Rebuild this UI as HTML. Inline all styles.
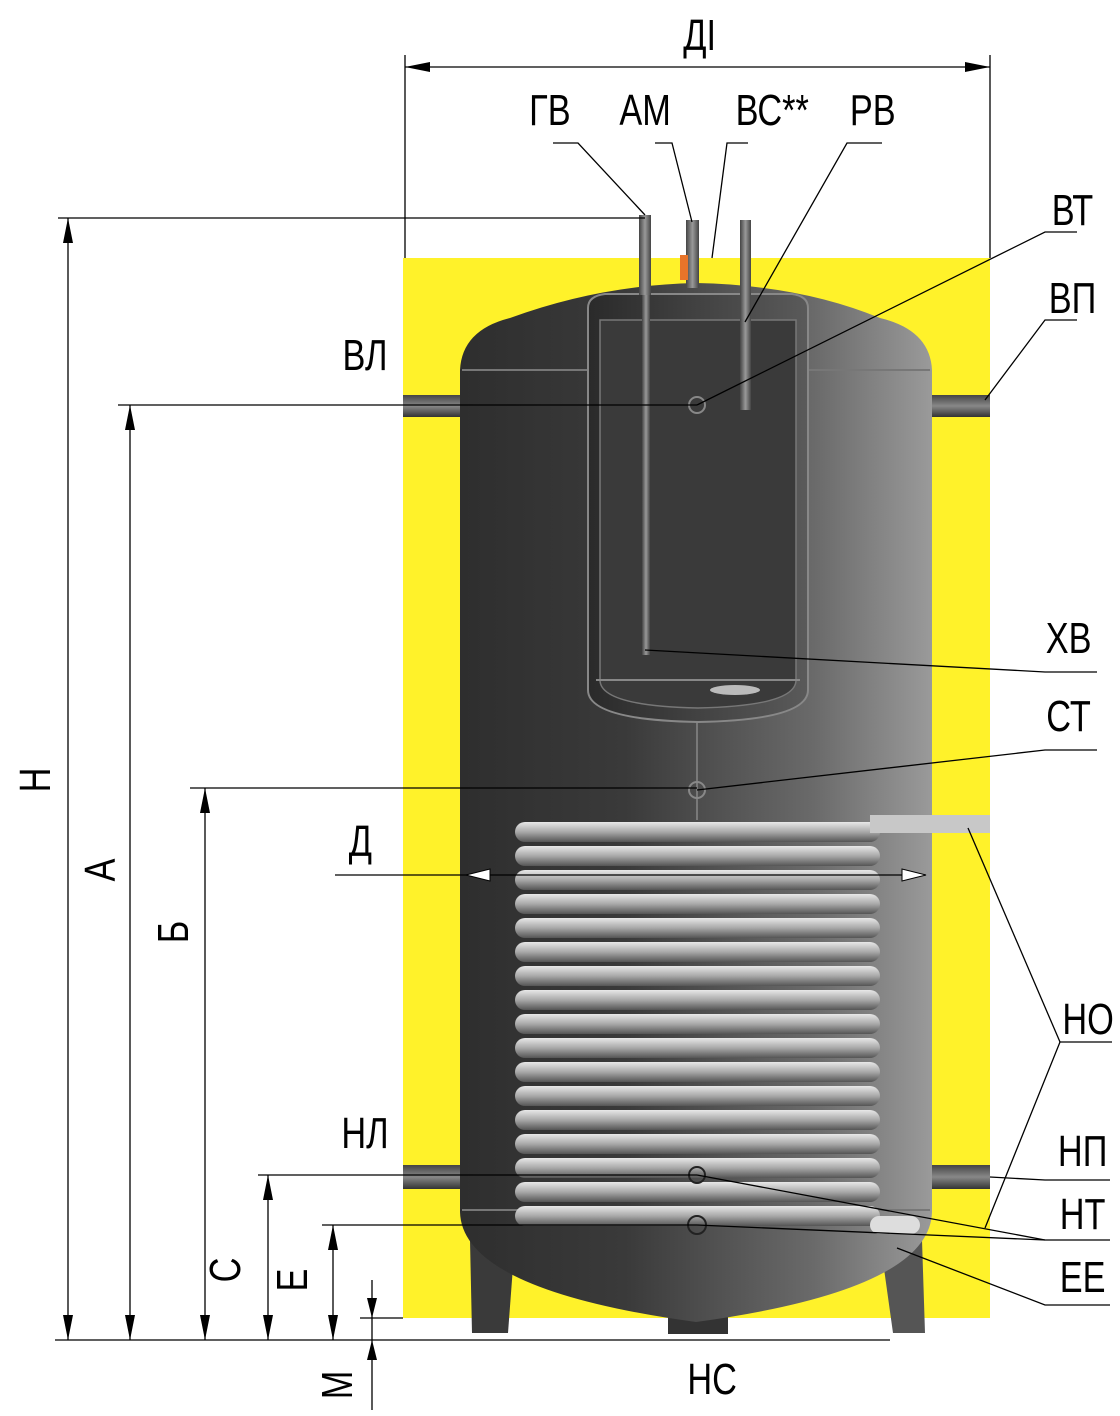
<!DOCTYPE html>
<html><head><meta charset="utf-8"><style>
html,body{margin:0;padding:0;background:#fff;}
svg{display:block;}
text{font-family:"Liberation Sans",sans-serif;font-size:44px;fill:#000;}
</style></head><body>
<svg width="1120" height="1416" viewBox="0 0 1120 1416" xmlns="http://www.w3.org/2000/svg">
<defs>
<linearGradient id="tank" x1="0" x2="1" y1="0" y2="0">
<stop offset="0" stop-color="#2e2e2e"/><stop offset="0.35" stop-color="#3a3a3a"/><stop offset="0.75" stop-color="#6a6a6a"/><stop offset="1" stop-color="#9a9a9a"/></linearGradient>
<linearGradient id="inner" x1="0" x2="1"><stop offset="0" stop-color="#2a2a2a"/><stop offset="1" stop-color="#5a5a5a"/></linearGradient>
<linearGradient id="coil" x1="0" x2="0" y1="0" y2="1"><stop offset="0" stop-color="#e8e8e8"/><stop offset="0.5" stop-color="#a8a8a8"/><stop offset="1" stop-color="#555"/></linearGradient>
<linearGradient id="pipe" x1="0" x2="1"><stop offset="0" stop-color="#444"/><stop offset="0.5" stop-color="#999"/><stop offset="1" stop-color="#444"/></linearGradient>
<linearGradient id="hpipe" x1="0" x2="0" y1="0" y2="1"><stop offset="0" stop-color="#444"/><stop offset="0.5" stop-color="#888"/><stop offset="1" stop-color="#333"/></linearGradient>
</defs>
<rect x="403" y="258" width="587" height="1060" fill="#fff22a"/>
<polygon points="470,1240 515,1240 508,1333 472,1333" fill="#3a3a3a"/>
<polygon points="880,1240 922,1240 925,1333 893,1333" fill="#555"/>
<rect x="668" y="1300" width="60" height="34" fill="#333"/>
<rect x="403" y="395" width="60" height="22" fill="url(#hpipe)"/>
<rect x="928" y="395" width="62" height="22" fill="url(#hpipe)"/>
<rect x="403" y="1165" width="60" height="24" fill="url(#hpipe)"/>
<rect x="928" y="1165" width="62" height="24" fill="url(#hpipe)"/>
<path d="M460,370 Q462,330 510,318 Q600,285 696,283 Q800,285 880,318 Q930,330 932,370 L932,1212 Q930,1290 696,1322 Q462,1290 460,1212 Z" fill="url(#tank)"/>
<line x1="462" y1="370" x2="930" y2="370" stroke="#777" stroke-width="2"/>
<line x1="462" y1="1210" x2="930" y2="1210" stroke="#777" stroke-width="2"/>
<path d="M588,308 Q588,296 605,294 L792,294 Q808,296 808,308 L808,690 Q808,720 698,722 Q588,720 588,690 Z" fill="url(#inner)" stroke="#888" stroke-width="2"/>
<path d="M600,320 L796,320 L796,680 Q796,706 698,708 Q600,706 600,680 Z" fill="#3a3a3a" stroke="#777" stroke-width="1.5"/>
<line x1="596" y1="680" x2="800" y2="680" stroke="#888" stroke-width="2"/>
<ellipse cx="735" cy="690" rx="25" ry="5" fill="#bbb"/>
<line x1="697" y1="722" x2="697" y2="820" stroke="#888" stroke-width="1.5"/>
<rect x="639" y="215" width="12" height="80" fill="url(#pipe)"/>
<rect x="686" y="220" width="13" height="68" fill="url(#pipe)"/>
<rect x="740" y="220" width="11" height="78" fill="url(#pipe)"/>
<rect x="680" y="255" width="8" height="25" fill="#e8742a"/>
<rect x="642" y="295" width="8" height="360" fill="url(#pipe)"/>
<rect x="740" y="298" width="11" height="112" fill="url(#pipe)"/>
<circle cx="697" cy="405" r="8" fill="none" stroke="#888" stroke-width="2"/>
<circle cx="697" cy="790" r="8" fill="none" stroke="#888" stroke-width="2"/>
<g>
<rect x="515" y="822" width="365" height="20" rx="10" fill="url(#coil)"/>
<rect x="515" y="846" width="365" height="20" rx="10" fill="url(#coil)"/>
<rect x="515" y="870" width="365" height="20" rx="10" fill="url(#coil)"/>
<rect x="515" y="894" width="365" height="20" rx="10" fill="url(#coil)"/>
<rect x="515" y="918" width="365" height="20" rx="10" fill="url(#coil)"/>
<rect x="515" y="942" width="365" height="20" rx="10" fill="url(#coil)"/>
<rect x="515" y="966" width="365" height="20" rx="10" fill="url(#coil)"/>
<rect x="515" y="990" width="365" height="20" rx="10" fill="url(#coil)"/>
<rect x="515" y="1014" width="365" height="20" rx="10" fill="url(#coil)"/>
<rect x="515" y="1038" width="365" height="20" rx="10" fill="url(#coil)"/>
<rect x="515" y="1062" width="365" height="20" rx="10" fill="url(#coil)"/>
<rect x="515" y="1086" width="365" height="20" rx="10" fill="url(#coil)"/>
<rect x="515" y="1110" width="365" height="20" rx="10" fill="url(#coil)"/>
<rect x="515" y="1134" width="365" height="20" rx="10" fill="url(#coil)"/>
<rect x="515" y="1158" width="365" height="20" rx="10" fill="url(#coil)"/>
<rect x="515" y="1182" width="365" height="20" rx="10" fill="url(#coil)"/>
<rect x="515" y="1206" width="365" height="20" rx="10" fill="url(#coil)"/>
</g>
<rect x="870" y="815" width="120" height="18" fill="#c8c8c8"/>
<rect x="870" y="1216" width="50" height="18" rx="9" fill="#ddd"/>
<circle cx="697" cy="1175" r="8" fill="none" stroke="#222" stroke-width="2"/>
<circle cx="697" cy="1225" r="9" fill="none" stroke="#222" stroke-width="2"/>
<g stroke="#000" stroke-width="1.3" fill="none">
<line x1="405" y1="55" x2="405" y2="258"/><line x1="990" y1="55" x2="990" y2="258"/>
<line x1="405" y1="67" x2="990" y2="67"/>
<line x1="58" y1="218" x2="645" y2="218"/>
<line x1="118" y1="405" x2="697" y2="405"/>
<line x1="190" y1="788" x2="697" y2="788"/>
<line x1="258" y1="1175" x2="697" y2="1175"/>
<line x1="322" y1="1225" x2="697" y2="1225"/>
<line x1="360" y1="1318" x2="403" y2="1318"/>
<line x1="55" y1="1340" x2="890" y2="1340"/>
<line x1="335" y1="875" x2="925" y2="875"/>
<line x1="68" y1="218" x2="68" y2="1340"/>
<line x1="130" y1="405" x2="130" y2="1340"/>
<line x1="205" y1="788" x2="205" y2="1340"/>
<line x1="268" y1="1175" x2="268" y2="1340"/>
<line x1="333" y1="1225" x2="333" y2="1340"/>
<line x1="372" y1="1280" x2="372" y2="1410"/>
<polyline points="553,143 578,143 645,215"/>
<polyline points="655,143 672,143 692,222"/>
<polyline points="748,143 727,143 712,258"/>
<polyline points="882,143 847,143 745,322"/>
<polyline points="1077,232 1045,232 697,405"/>
<polyline points="1077,320 1045,320 985,400"/>
<polyline points="1097,672 1045,672 645,650"/>
<polyline points="1097,750 1045,750 697,790"/>
<polyline points="1112,1042 1060,1042 985,1228"/>
<polyline points="1060,1042 968,828"/>
<polyline points="1110,1180 1045,1180 990,1177"/>
<polyline points="1110,1240 1045,1240 697,1175"/>
<polyline points="1110,1305 1045,1305 897,1248"/>
<polyline points="1045,1240 697,1225"/>
</g>
<g fill="#000">
<polygon points="405,67 430,62 430,72"/><polygon points="990,67 965,62 965,72"/>
<polygon points="68,218 63,243 73,243"/><polygon points="68,1340 63,1315 73,1315"/>
<polygon points="130,405 125,430 135,430"/><polygon points="130,1340 125,1315 135,1315"/>
<polygon points="205,788 200,813 210,813"/><polygon points="205,1340 200,1315 210,1315"/>
<polygon points="268,1175 263,1200 273,1200"/><polygon points="268,1340 263,1315 273,1315"/>
<polygon points="333,1225 328,1250 338,1250"/><polygon points="333,1340 328,1315 338,1315"/>
<polygon points="372,1318 367,1298 377,1298"/><polygon points="372,1340 367,1360 377,1360"/>
</g>
<polygon points="466,875 490,869 490,881" fill="#fff" stroke="#000"/>
<polygon points="926,875 902,869 902,881" fill="#fff" stroke="#000"/>
<g transform="scale(0.78,1)">
<text x="897" y="50" text-anchor="middle">ДІ</text>
<text x="705" y="125" text-anchor="middle">ГВ</text>
<text x="827" y="125" text-anchor="middle">АМ</text>
<text x="990" y="125" text-anchor="middle">ВС**</text>
<text x="1119" y="125" text-anchor="middle">РВ</text>
<text x="1375" y="225" text-anchor="middle">ВТ</text>
<text x="1375" y="313" text-anchor="middle">ВП</text>
<text x="468" y="370" text-anchor="middle">ВЛ</text>
<text x="1370" y="653" text-anchor="middle">ХВ</text>
<text x="1370" y="731" text-anchor="middle">СТ</text>
<text x="462" y="856" text-anchor="middle">Д</text>
<text x="1395" y="1034" text-anchor="middle">НО</text>
<text x="468" y="1148" text-anchor="middle">НЛ</text>
<text x="1388" y="1166" text-anchor="middle">НП</text>
<text x="1388" y="1229" text-anchor="middle">НТ</text>
<text x="1388" y="1292" text-anchor="middle">ЕЕ</text>
<text x="913" y="1394" text-anchor="middle">НС</text>
</g>
<g>
<text transform="translate(50,780) rotate(-90) scale(0.78,1)" text-anchor="middle">Н</text>
<text transform="translate(115,870) rotate(-90) scale(0.78,1)" text-anchor="middle">А</text>
<text transform="translate(188,932) rotate(-90) scale(0.78,1)" text-anchor="middle">Б</text>
<text transform="translate(240,1270) rotate(-90) scale(0.78,1)" text-anchor="middle">С</text>
<text transform="translate(307,1280) rotate(-90) scale(0.78,1)" text-anchor="middle">Е</text>
<text transform="translate(352,1385) rotate(-90) scale(0.78,1)" text-anchor="middle">М</text>
</g>
</svg>
</body></html>
